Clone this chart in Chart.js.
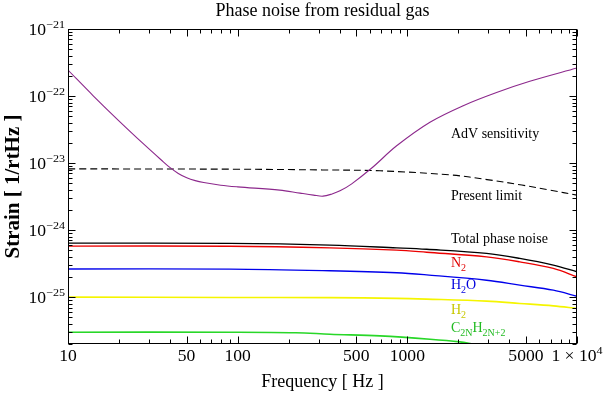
<!DOCTYPE html>
<html><head><meta charset="utf-8">
<script src="https://cdn.jsdelivr.net/npm/chart.js@4.4.1/dist/chart.umd.min.js"></script>
<style>html,body{margin:0;padding:0;background:#fff;overflow:hidden}</style>
</head><body>
<canvas id="c" width="607" height="394"></canvas>
<script>
// ---- texts ----
const chartTitle = 'Phase noise from residual gas';
const xAxisTitle = 'Frequency [ Hz ]';
const yAxisTitle = 'Strain [ 1/rtHz ]';

// ---- tick labels ('^' starts a superscript) ----
const xTickValues = [10, 50, 100, 500, 1000, 5000, 10000];
const xTickLabels = ['10', '50', '100', '500', '1000', '5000', '1 × 10^4'];
const yTickValues = [1e-25, 1e-24, 1e-23, 1e-22, 1e-21];
const yTickLabels = ['10^−25', '10^−24', '10^−23', '10^−22', '10^−21'];

// ---- AdV sensitivity ----
const advFreq   = [10, 14.13, 19.95, 28.18, 35.48, 39.81, 44.67, 50.12, 56.23, 63.1, 79.43, 100, 177, 233, 280, 318, 360, 401, 470, 617, 865, 1359, 2135, 3357, 5272, 10000];
const advStrain = [2.44e-22, 1.0e-22, 4.27e-23, 1.88e-23, 1.11e-23, 8.61e-24, 7.0e-24, 6.03e-24, 5.47e-24, 5.13e-24, 4.68e-24, 4.42e-24, 3.95e-24, 3.56e-24, 3.33e-24, 3.21e-24, 3.46e-24, 3.85e-24, 4.9e-24, 8.43e-24, 1.81e-23, 4.07e-23, 7.19e-23, 1.13e-22, 1.66e-22, 2.62e-22];

// ---- Present limit ----
const limitFreq   = [10, 100, 316, 690, 1832, 2950, 4730, 6918, 10000];
const limitStrain = [8.2e-24, 8.1e-24, 7.9e-24, 7.67e-24, 6.62e-24, 5.67e-24, 4.7e-24, 3.95e-24, 3.33e-24];

// ---- gas phase noise ----
const gasFreq    = [10, 90, 350, 865, 1300, 2930, 4600, 7250, 10000];
const totalNoise = [6.4e-25, 6.33e-25, 5.97e-25, 5.44e-25, 5.18e-25, 4.49e-25, 3.78e-25, 3.0e-25, 2.39e-25];
const n2Noise    = [5.77e-25, 5.75e-25, 5.44e-25, 5.03e-25, 4.68e-25, 3.99e-25, 3.36e-25, 2.68e-25, 2.01e-25];
const h2oNoise   = [2.63e-25, 2.62e-25, 2.47e-25, 2.31e-25, 2.15e-25, 1.79e-25, 1.51e-25, 1.27e-25, 1.03e-25];
const h2Noise    = [1.0e-25, 9.9e-26, 9.85e-26, 9.6e-26, 9.35e-26, 8.71e-26, 8.05e-26, 7.41e-26, 6.78e-26];
const hcFreq     = [10, 90, 220, 350, 690, 1360, 2040, 2440, 4000];
const hcNoise    = [3.0e-26, 3.0e-26, 2.95e-26, 2.8e-26, 2.64e-26, 2.36e-26, 2.15e-26, 1.99e-26, 1.6e-26];

// ---- in-plot labels ----
const noteParts = [
  [['AdV sensitivity', 0]],
  [['Present limit', 0]],
  [['Total phase noise', 0]],
  [['N', 0], ['2', 1]],
  [['H', 0], ['2', 1], ['O', 0]],
  [['H', 0], ['2', 1]],
  [['C', 0], ['2N', 1], ['H', 0], ['2N+2', 1]]
];
const noteColors = ['#000', '#000', '#000', '#e00000', '#0000dd', '#c8c800', '#22bb22'];
const noteFreq = 1807;
const noteLevel = [2.71e-23, 3.2e-24, 7.35e-25, 3.2e-25, 1.51e-25, 6.4e-26, 3.44e-26];

const FONT = '"Liberation Serif", "Times New Roman", serif';
const SX = 1.1;   // horizontal stretch of tick-label glyphs
const pts = (xs, ys) => xs.map((v, i) => ({x: v, y: ys[i]}));
const line = (label, xs, ys, color, width, dash) => ({
  label, data: pts(xs, ys), borderColor: color, borderWidth: width,
  borderDash: dash || [], pointRadius: 0, fill: false, tension: 0.35
});

function labelParts(str) {
  const i = str.indexOf('^');
  return i < 0 ? [[str, 0]] : [[str.slice(0, i), 0], [str.slice(i + 1), 1]];
}
function drawTickLabel(ctx, str, x, y, align) {
  const parts = labelParts(str).map(([t, sup]) => {
    ctx.font = (sup ? '11px ' : '16px ') + FONT;
    return {t, sup, w: ctx.measureText(t).width * SX};
  });
  const total = parts.reduce((s, p) => s + p.w, 0);
  let px = align === 'right' ? x - total : x - total / 2;
  parts.forEach(p => {
    ctx.font = (p.sup ? '11px ' : '16px ') + FONT;
    ctx.save();
    ctx.translate(px, y + (p.sup ? -5.5 : 0));
    ctx.scale(SX, 1);
    ctx.fillText(p.t, 0, 0);
    ctx.restore();
    px += p.w;
  });
}

const bgPlugin = {
  id: 'bg',
  beforeDraw(chart) {
    const ctx = chart.ctx; ctx.save(); ctx.fillStyle = '#fff';
    ctx.fillRect(0, 0, chart.width, chart.height); ctx.restore();
  }
};

const framePlugin = {
  id: 'frame',
  afterDatasetsDraw(chart) {
    const {ctx, chartArea: a, scales: {x, y}} = chart;
    const L = Math.round(a.left) + 0.5, R = Math.round(a.right) - 0.5;
    const T = Math.round(a.top) + 0.5, B = Math.round(a.bottom) - 0.5;
    ctx.save();
    ctx.strokeStyle = '#000'; ctx.lineWidth = 1;
    ctx.beginPath();
    for (let e = 1; e <= 4; e++) for (let k = 1; k <= 9; k++) {
      const v = k * Math.pow(10, e);
      if (v < 10 - 1e-9 || v > 10000 + 1e-9) continue;
      const major = xTickValues.some(t => Math.abs(t - v) / v < 1e-9);
      const len = major ? 7 : 4;
      const px = Math.round(x.getPixelForValue(v)) + 0.5;
      ctx.moveTo(px, B); ctx.lineTo(px, B - len);
      ctx.moveTo(px, T); ctx.lineTo(px, T + len);
    }
    for (let e = -27; e <= -21; e++) for (let k = 1; k <= 9; k++) {
      const v = k * Math.pow(10, e);
      if (v < y.min * 0.999 || v > y.max * 1.001) continue;
      const len = k === 1 ? 7 : 4;
      const py = Math.round(y.getPixelForValue(v)) + 0.5;
      ctx.moveTo(L, py); ctx.lineTo(L + len, py);
      ctx.moveTo(R, py); ctx.lineTo(R - len, py);
    }
    ctx.stroke();
    ctx.strokeRect(L, T, R - L, B - T);

    // tick labels
    ctx.fillStyle = '#000';
    ctx.textAlign = 'left';
    ctx.textBaseline = 'middle';
    xTickValues.forEach((v, i) => drawTickLabel(ctx, xTickLabels[i], x.getPixelForValue(v), a.bottom + 13, 'center'));
    yTickValues.forEach((v, i) => drawTickLabel(ctx, yTickLabels[i], a.left - 3, y.getPixelForValue(v) + 1.5, 'right'));

    // in-plot labels
    noteParts.forEach((parts, i) => {
      let px = x.getPixelForValue(noteFreq);
      const py = y.getPixelForValue(noteLevel[i]);
      ctx.fillStyle = noteColors[i];
      parts.forEach(([t, sub]) => {
        ctx.font = (sub ? '10px ' : '14px ') + FONT;
        ctx.fillText(t, px, py + (sub ? 5 : 0));
        px += ctx.measureText(t).width;
      });
    });
    ctx.restore();
  }
};

new Chart(document.getElementById('c'), {
  type: 'line',
  data: {
    datasets: [
      line('AdV sensitivity', advFreq, advStrain, 'rgb(140,40,140)', 1.1),
      line('Present limit', limitFreq, limitStrain, '#000', 1.1, [7, 4]),
      line('Total phase noise', gasFreq, totalNoise, '#000', 1.4),
      line('N2', gasFreq, n2Noise, 'rgb(235,0,0)', 1.4),
      line('H2O', gasFreq, h2oNoise, 'rgb(0,0,235)', 1.4),
      line('H2', gasFreq, h2Noise, 'rgb(245,245,0)', 1.6),
      line('C2NH2N+2', hcFreq, hcNoise, 'rgb(40,215,40)', 1.6)
    ]
  },
  options: {
    responsive: false,
    animation: false,
    devicePixelRatio: 1,
    layout: {padding: {left: 0, right: 30, top: 0, bottom: 0}},
    plugins: {legend: {display: false}, tooltip: {enabled: false}, title: {display: false}},
    scales: {
      x: {
        type: 'logarithmic', position: 'bottom', min: 10, max: 10000,
        grid: {display: false, drawTicks: false}, border: {display: false},
        afterBuildTicks: s => { s.ticks = xTickValues.map(v => ({value: v})); },
        afterFit: s => { s.height = 50; },
        ticks: {display: false},
        title: {display: true, text: xAxisTitle, color: '#000', font: {family: FONT, size: 18}, padding: {top: 0, bottom: 1}}
      },
      x2: {
        type: 'logarithmic', position: 'top', min: 10, max: 10000,
        grid: {display: false, drawTicks: false}, border: {display: false},
        ticks: {display: false},
        afterFit: s => { s.height = 29; },
        title: {display: true, text: chartTitle, color: '#000', font: {family: FONT, size: 18}, padding: {top: 0, bottom: 0}}
      },
      y: {
        type: 'logarithmic', position: 'left', min: 2e-26, max: 1e-21,
        grid: {display: false, drawTicks: false}, border: {display: false},
        afterBuildTicks: s => { s.ticks = yTickValues.map(v => ({value: v})); },
        afterFit: s => { s.width = 68; },
        ticks: {display: false},
        title: {display: true, text: yAxisTitle, color: '#000', font: {family: FONT, size: 21, weight: 'bold'}, padding: {top: 1, bottom: 0}}
      }
    }
  },
  plugins: [bgPlugin, framePlugin]
});
</script>
</body></html>
